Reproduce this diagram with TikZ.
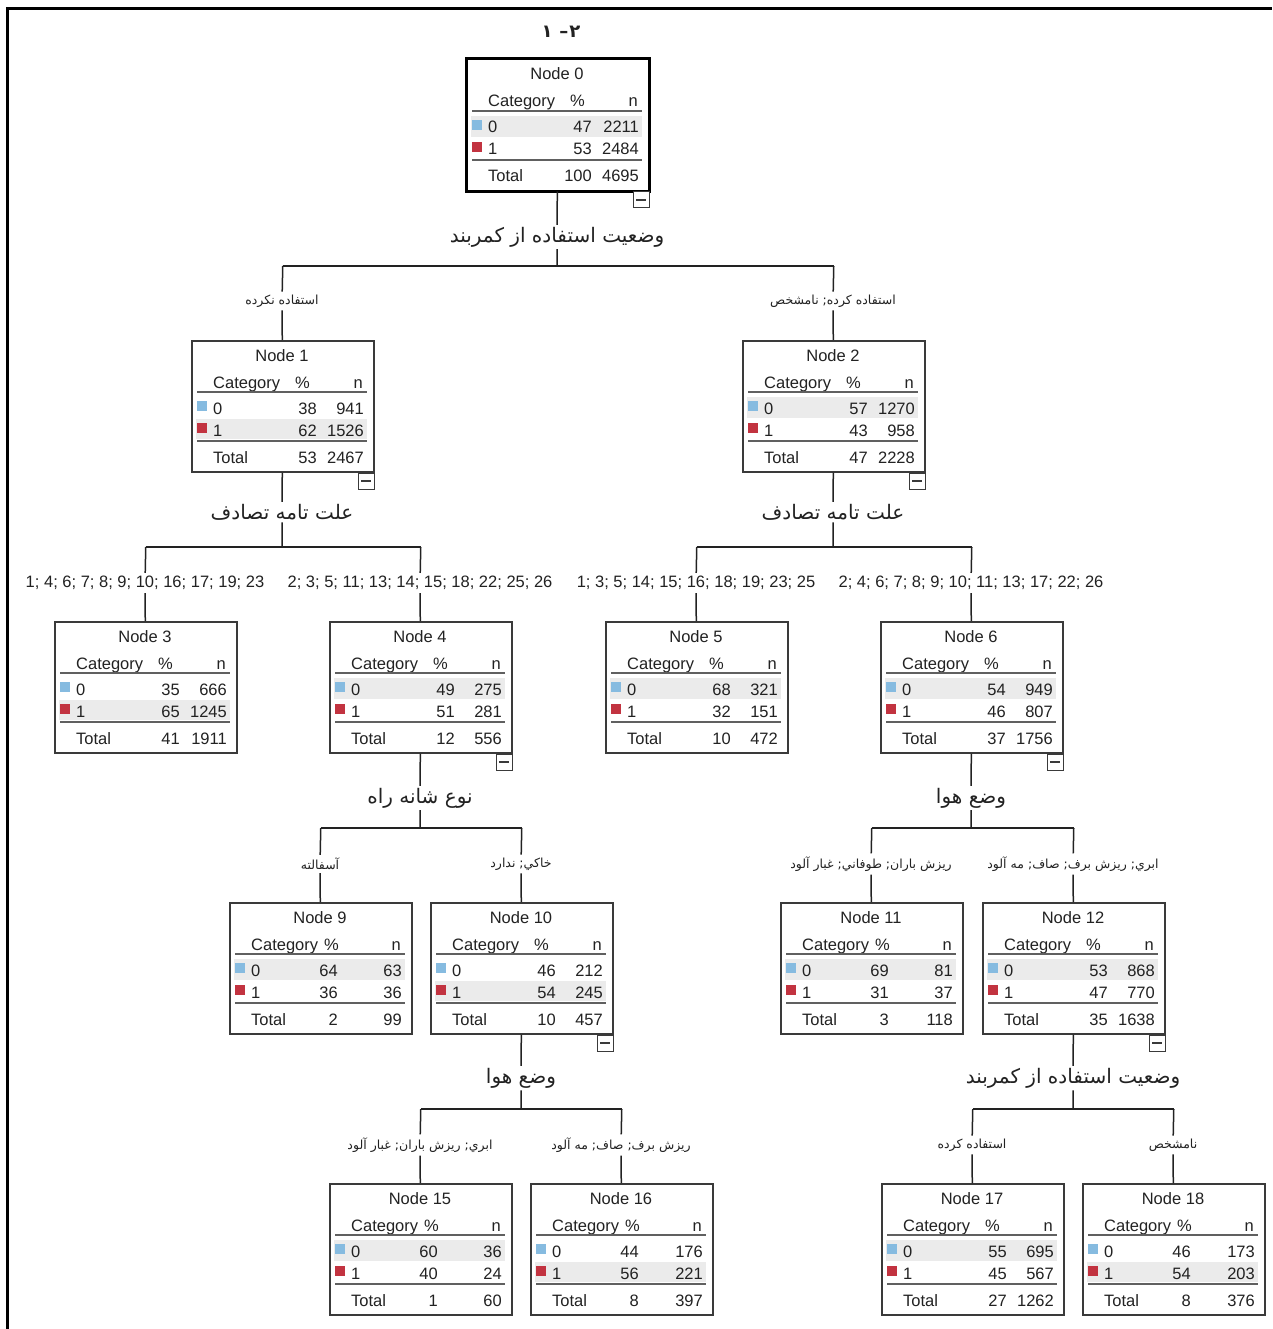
\documentclass[tikz,border=0pt]{standalone}
\usepackage{fontspec}
\setmainfont{Liberation Sans}
\newfontfamily\arabicfont[Script=Arabic]{DejaVu Sans}
\TeXXeTstate=1

\definecolor{cat0}{HTML}{86BBE0}
\definecolor{cat1}{HTML}{C23340}
\definecolor{rowgray}{HTML}{EBEBEB}
\definecolor{ink}{HTML}{222222}
\definecolor{boxline}{HTML}{3A3A3A}

% persian text, right to left
\newcommand{\fa}[1]{{\arabicfont\beginR #1\endR}}

% table of one tree node: [% head x/% values x] name, left, top, number, shaded row, values
\newcommand{\treebox}[7][119/126]{%
  \foreach \ph/\pv in {#1}{%
  \foreach \pA/\nA/\pB/\nB/\pT/\nT in {#7}{%
    \node[treebox, anchor=north west] (#2) at (#3,#4) {};
    \fill[rowgray] ({#3+5},{#4+57+22*#6}) rectangle ({#3+176},{#4+78+21*#6});
    \node[celltext, anchor=base] (#2-title) at ({#3+91},{#4+21}) {Node #5};
    \node[celltext, anchor=base west] (#2-cat) at ({#3+22},{#4+48}) {Category};
    \node[celltext, anchor=base east] (#2-pct) at ({#3+\ph},{#4+48}) {\%};
    \node[celltext, anchor=base east] (#2-n) at ({#3+172},{#4+48}) {n};
    \draw[sepline] ({#3+6},{#4+52}) -- ({#3+176},{#4+52});
    \fill[cat0] ({#3+6},{#4+61}) rectangle ++(10,10);
    \fill[cat1] ({#3+6},{#4+83}) rectangle ++(10,10);
    \node[celltext, anchor=base west] (#2-c0) at ({#3+22},{#4+74}) {0};
    \node[celltext, anchor=base east] (#2-p0) at ({#3+\pv},{#4+74}) {\pA};
    \node[celltext, anchor=base east] (#2-n0) at ({#3+173},{#4+74}) {\nA};
    \node[celltext, anchor=base west] (#2-c1) at ({#3+22},{#4+96}) {1};
    \node[celltext, anchor=base east] (#2-p1) at ({#3+\pv},{#4+96}) {\pB};
    \node[celltext, anchor=base east] (#2-n1) at ({#3+173},{#4+96}) {\nB};
    \draw[sepline] ({#3+6},{#4+101}) -- ({#3+176},{#4+101});
    \node[celltext, anchor=base west] (#2-tot) at ({#3+22},{#4+123}) {Total};
    \node[celltext, anchor=base east] (#2-pt) at ({#3+\pv},{#4+123}) {\pT};
    \node[celltext, anchor=base east] (#2-nt) at ({#3+173},{#4+123}) {\nT};
  }}}

\begin{document}
\begin{tikzpicture}[x=1pt, y=-1pt,
    treebox/.style={rectangle, draw=boxline, line width=1.5pt, fill=white, minimum width=182pt, minimum height=131pt, inner sep=0pt},
    celltext/.style={inner sep=0pt, text=ink, font=\fontsize{16.5}{19}\selectfont},
    sepline/.style={draw=gray!75!black, line width=1.8pt},
    minusbox/.style={draw=boxline, line width=1pt, fill=white, minimum size=16pt, inner sep=0pt,
        path picture={\draw[line width=1.2pt] ([xshift=3pt]path picture bounding box.west) -- ([xshift=-3pt]path picture bounding box.east);}},
    splitlabel/.style={fill=white, inner sep=2pt, text=ink, font=\fontsize{20}{24}\selectfont},
    branchlabel/.style={fill=white, inner sep=3pt, text=ink, font=\fontsize{16.5}{19}\selectfont},
    farsilabel/.style={branchlabel, font=\fontsize{12.5}{15}\selectfont},
    link/.style={draw=ink, line width=1.5pt},
  ]
  \useasboundingbox (0,0) rectangle (1272,1329);
  % page frame
  \draw[line width=3pt] (7,1329) -- (7,9) -- (1272,9);
  \node[text=ink, font=\bfseries\fontsize{18}{20}\selectfont] (title) at (561,32) {\fa{۲\kern1pt–\kern7pt۱}};

  % tree nodes
  \treebox{n0}{466}{59}{0}{0}{47/2211/53/2484/100/4695}
  \draw[line width=3pt] (n0.north west) rectangle (n0.south east);
  \treebox{n1}{191}{340}{1}{1}{38/941/62/1526/53/2467}
  \treebox{n2}{742}{340}{2}{0}{57/1270/43/958/47/2228}
  \treebox{n3}{54}{621}{3}{1}{35/666/65/1245/41/1911}
  \treebox{n4}{329}{621}{4}{0}{49/275/51/281/12/556}
  \treebox{n5}{605}{621}{5}{0}{68/321/32/151/10/472}
  \treebox{n6}{880}{621}{6}{0}{54/949/46/807/37/1756}
  \treebox[110/109]{n9}{229}{902}{9}{0}{64/63/36/36/2/99}
  \treebox{n10}{430}{902}{10}{1}{46/212/54/245/10/457}
  \treebox[110/109]{n11}{780}{902}{11}{0}{69/81/31/37/3/118}
  \treebox{n12}{982}{902}{12}{0}{53/868/47/770/35/1638}
  \treebox[110/109]{n15}{329}{1183}{15}{0}{60/36/40/24/1/60}
  \treebox[110/109]{n16}{530}{1183}{16}{1}{44/176/56/221/8/397}
  \treebox{n17}{881}{1183}{17}{0}{55/695/45/567/27/1262}
  \treebox[110/109]{n18}{1082}{1183}{18}{1}{46/173/54/203/8/376}

  % collapse buttons
  \foreach \p in {n0,n1,n2,n4,n6,n10,n12}
    \node[minusbox, anchor=north east] (\p-m) at (\p.south east) {};

  % split variables
  \node[splitlabel] (s0) at (557,237) {\fa{وضعیت استفاده از کمربند}};
  \node[splitlabel] (s1) at (282,512) {\fa{علت تامه تصادف}};
  \node[splitlabel] (s2) at (833,512) {\fa{علت تامه تصادف}};
  \node[splitlabel] (s4) at (420,798) {\fa{نوع شانه راه}};
  \node[splitlabel] (s6) at (971,798) {\fa{وضع هوا}};
  \node[splitlabel] (s10) at (521,1078) {\fa{وضع هوا}};
  \node[splitlabel] (s12) at (1073,1078) {\fa{وضعیت استفاده از کمربند}};
  \coordinate (b0) at (557,266);
  \coordinate (b1) at (282,547);
  \coordinate (b2) at (833,547);
  \coordinate (b4) at (420,828);
  \coordinate (b6) at (971,828);
  \coordinate (b10) at (521,1109);
  \coordinate (b12) at (1073,1109);

  % branch values
  \node[farsilabel] (n1-e) at (282,301) {\fa{استفاده نکرده}};
  \node[farsilabel] (n2-e) at (833,301) {\fa{استفاده کرده; نامشخص}};
  \node[branchlabel] (n3-e) at (145,583) {1; 4; 6; 7; 8; 9; 10; 16; 17; 19; 23};
  \node[branchlabel] (n4-e) at (420,583) {2; 3; 5; 11; 13; 14; 15; 18; 22; 25; 26};
  \node[branchlabel] (n5-e) at (696,583) {1; 3; 5; 14; 15; 16; 18; 19; 23; 25};
  \node[branchlabel] (n6-e) at (971,583) {2; 4; 6; 7; 8; 9; 10; 11; 13; 17; 22; 26};
  \node[farsilabel] (n9-e) at (320,864) {\fa{آسفالته}};
  \node[farsilabel] (n10-e) at (521,864) {\fa{خاكي; ندارد}};
  \node[farsilabel] (n11-e) at (871,864) {\fa{ريزش باران; طوفاني; غبار آلود}};
  \node[farsilabel] (n12-e) at (1073,864) {\fa{ابري; ريزش برف; صاف; مه آلود}};
  \node[farsilabel] (n15-e) at (420,1145) {\fa{ابري; ريزش باران; غبار آلود}};
  \node[farsilabel] (n16-e) at (621,1145) {\fa{ريزش برف; صاف; مه آلود}};
  \node[farsilabel] (n17-e) at (972,1145) {\fa{استفاده کرده}};
  \node[farsilabel] (n18-e) at (1173,1145) {\fa{نامشخص}};

  % connectors
  \foreach \p/\s/\b/\l/\r in {n0/s0/b0/n1/n2, n1/s1/b1/n3/n4, n2/s2/b2/n5/n6,
      n4/s4/b4/n9/n10, n6/s6/b6/n11/n12, n10/s10/b10/n15/n16, n12/s12/b12/n17/n18}{
    \draw[link] (\p) -- (\s) -- (\b);
    \draw[link] (\l |- \b) -- (\r |- \b);
    \draw[link] (\l |- \b) -- (\l-e) -- (\l);
    \draw[link] (\r |- \b) -- (\r-e) -- (\r);
  }
\end{tikzpicture}
\end{document}
